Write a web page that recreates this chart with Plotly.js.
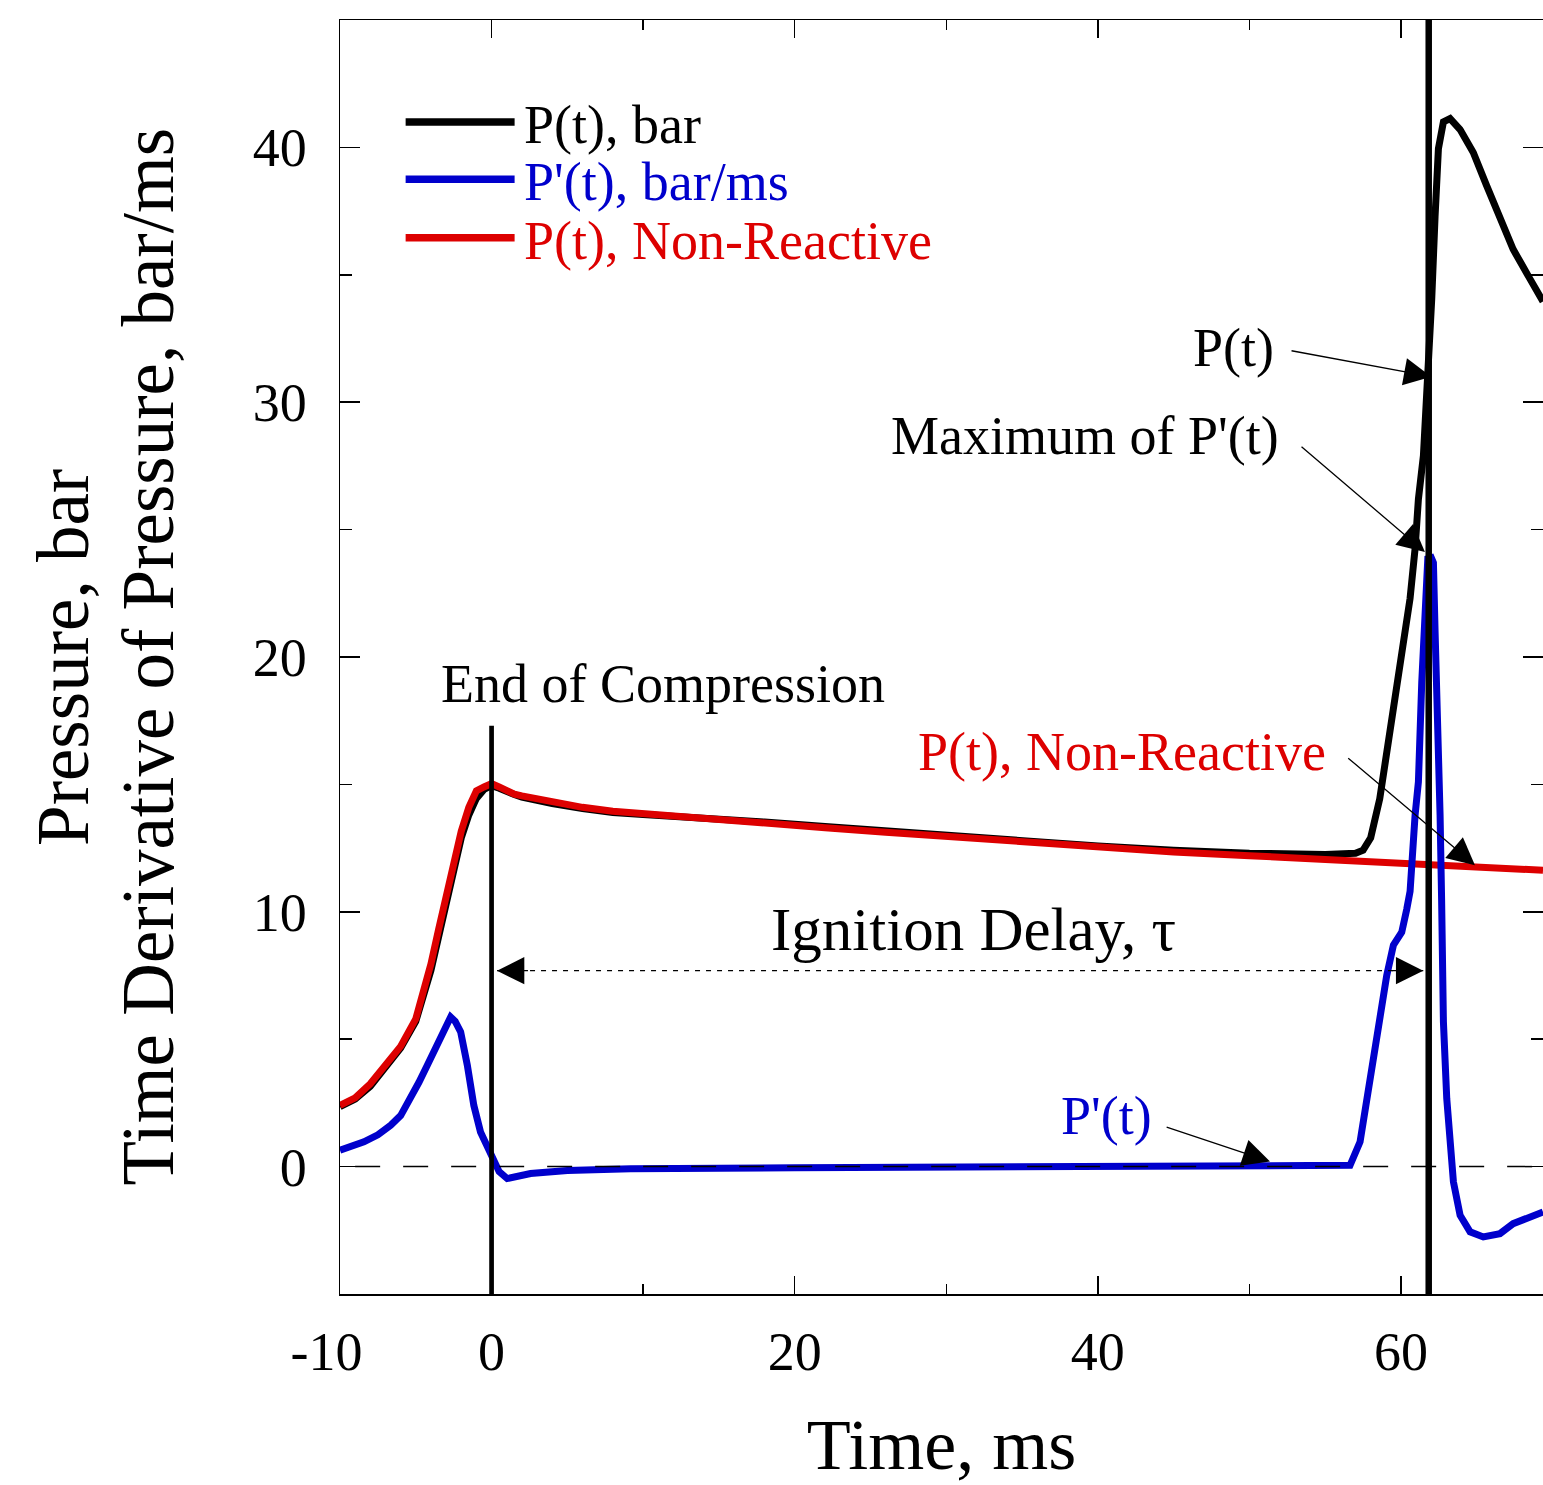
<!DOCTYPE html>
<html><head><meta charset="utf-8">
<script src="https://cdn.plot.ly/plotly-3.0.1.min.js"></script>
<style>html,body{margin:0;padding:0;background:#fff;overflow:hidden}</style>
</head><body><div id="chart" style="width:1543px;height:1485px"></div>
<script>
// ---- data ----
const tPress = [-10,-9,-8,-7,-6,-5,-4.5,-4,-3.5,-3,-2.5,-2,-1.5,-1,-0.5,0,0.5,1,1.5,2,3,4,6,8,10,14,18,22,26,30,35,40,45,50,55,56.5,57,57.5,58,58.6,59.3,59.94,60.6,60.93,61.15,61.48,61.7,61.8,62.03,62.25,62.47,62.8,63.24,63.9,64.77,65.65,66.53,67.4,68.5,69.37];
const pPress = [2.35,2.65,3.15,3.85,4.65,5.7,6.7,7.7,9.0,10.4,11.8,12.9,13.8,14.45,14.8,14.95,14.85,14.7,14.6,14.5,14.35,14.25,14.05,13.9,13.82,13.7,13.52,13.35,13.17,13.0,12.78,12.58,12.42,12.3,12.25,12.27,12.3,12.42,12.9,14.44,17.07,19.67,22.3,24.25,26.2,27.9,30.1,30.8,34.07,37.3,39.95,41.0,41.13,40.7,39.8,38.5,37.2,36.0,34.85,33.95];

const tNonReactive = [-10,-9,-8,-7,-6,-5,-4.5,-4,-3.5,-3,-2.5,-2,-1.5,-1,-0.5,0,0.5,1,1.5,2,3,4,6,8,10,14,18,22,26,30,35,40,45,50,55,60,65,69.37];
const pNonReactive = [2.4,2.7,3.25,3.94,4.72,5.8,6.83,7.95,9.3,10.67,12.06,13.16,14.1,14.75,14.9,15.03,14.9,14.72,14.62,14.55,14.42,14.3,14.1,13.95,13.85,13.65,13.47,13.3,13.12,12.95,12.73,12.52,12.35,12.2,12.05,11.92,11.78,11.63];

const tDeriv = [-10,-9,-8.42,-7.5,-6.66,-6,-5.34,-4.8,-4.24,-3.8,-3.36,-2.9,-2.7,-2.4,-2.04,-1.6,-1.17,-0.73,-0.07,0.5,1.03,2.57,5,9.17,20,40,56,56.64,57.3,57.7,58.2,58.6,59.06,59.5,60.05,60.38,60.6,60.93,61.15,61.37,61.59,61.77,62.0,62.14,62.25,62.36,62.47,62.58,62.68,62.72,62.8,63.02,63.24,63.46,63.9,64.56,65.43,66.53,67.4,68.3,69.37];
const dpDeriv = [0.64,0.82,0.97,1.25,1.62,2.0,2.67,3.3,3.98,4.5,5.02,5.6,5.87,5.7,5.29,3.98,2.4,1.36,0.44,-0.2,-0.47,-0.27,-0.15,-0.08,-0.05,-0.03,0.0,0.05,0.97,2.4,4.37,5.94,7.5,8.69,9.2,10.1,10.8,13.79,15.1,19.0,22.3,23.86,23.9,23.7,21.0,19.0,16.4,13.8,10.5,7.9,5.68,2.67,0.71,-0.6,-1.91,-2.56,-2.76,-2.63,-2.24,-2.0,-1.78];

const xTickVals = [-10,0,20,40,60];
const xTickText = ['-10\u2002','0','20','40','60'];
const yTickVals = [0,10,20,30,40];
const yTickText = ['0','10','20','30','40'];

const endOfCompression = 0;
const ignitionTime = 61.83;
const delayArrowLevel = 7.69;

const seriesNames = ["P(t), bar", "P'(t), bar/ms", "P(t), Non-Reactive"];
const seriesColors = ['#000000', '#0000cc', '#dd0000'];

// ---- figure ----
const FONT = 'Liberation Serif, Times New Roman, serif';

const traces = [
  {x: tPress, y: pPress, name: seriesNames[0], type: 'scatter', mode: 'lines', line: {color: seriesColors[0], width: 7}},
  {x: tNonReactive, y: pNonReactive, name: seriesNames[2], type: 'scatter', mode: 'lines', line: {color: seriesColors[2], width: 7}},
  {x: tDeriv, y: dpDeriv, name: seriesNames[1], type: 'scatter', mode: 'lines', line: {color: seriesColors[1], width: 7}}
];

const legendRows = [41.0, 38.75, 36.45];
const legendOrder = [0, 1, 2];

const shapes = [
  {type: 'line', xref: 'x', yref: 'y', x0: -9, x1: 69.37, y0: 0, y1: 0, layer: 'above', line: {color: '#000', width: 1.5, dash: '25px,23px'}},
  {type: 'line', xref: 'x', yref: 'y', x0: endOfCompression, x1: endOfCompression, y0: -5, y1: 17.3, layer: 'above', line: {color: '#000', width: 4.7}},
  {type: 'line', xref: 'x', yref: 'y', x0: ignitionTime, x1: ignitionTime, y0: -5, y1: 45, layer: 'above', line: {color: '#000', width: 6.5}},
  {type: 'line', xref: 'x', yref: 'y', x0: 0.36, x1: 61.47, y0: delayArrowLevel, y1: delayArrowLevel, layer: 'above', line: {color: '#000', width: 1.4, dash: '5px,6px'}}
];
legendOrder.forEach((k, i) => {
  shapes.push({type: 'line', xref: 'x', yref: 'y', x0: -5.67, x1: 1.52, y0: legendRows[i], y1: legendRows[i], layer: 'above', line: {color: seriesColors[k], width: 7.5}});
});

const arrowStyle = {text: '', showarrow: true, arrowhead: 2, arrowsize: 4.2, arrowwidth: 1.3, arrowcolor: '#000', axref: 'x', ayref: 'y', xref: 'x', yref: 'y'};
const annotations = [
  Object.assign({}, arrowStyle, {x: 62.0, y: 31.0, ax: 52.68, ay: 32.03}),
  Object.assign({}, arrowStyle, {x: 61.58, y: 24.12, ax: 53.34, ay: 28.3}),
  Object.assign({}, arrowStyle, {x: 64.88, y: 11.83, ax: 56.42, ay: 16.08}),
  Object.assign({}, arrowStyle, {x: 51.36, y: 0.2, ax: 44.44, ay: 1.57}),
  Object.assign({}, arrowStyle, {x: 0.36, y: delayArrowLevel, ax: 2.5, ay: delayArrowLevel}),
  Object.assign({}, arrowStyle, {x: 61.47, y: delayArrowLevel, ax: 59.33, ay: delayArrowLevel})
];
const textAnn = (txt, x, y, color, anchor, size) => ({text: txt, x: x, y: y, xref: 'x', yref: 'y', showarrow: false, xanchor: anchor || 'center', yanchor: 'middle', font: {family: FONT, size: size || 54, color: color}});
annotations.push(textAnn('P(t)', 48.92, 32.14, '#000'));
annotations.push(textAnn("Maximum of P'(t)", 39.15, 28.69, '#000'));
annotations.push(textAnn('P(t), Non-Reactive', 41.62, 16.29, seriesColors[2]));
annotations.push(textAnn("P'(t)", 40.57, 1.98, seriesColors[1]));
annotations.push(textAnn('End of Compression', 11.28, 18.95, '#000'));
annotations.push(textAnn('Ignition Delay, τ', 31.79, 9.3, '#000', 'center', 61));
legendOrder.forEach((k, i) => {
  annotations.push(textAnn(seriesNames[k], 2.0, legendRows[i] - 0.12, seriesColors[k], 'left'));
});
annotations.push({text: 'Pressure, bar', xref: 'paper', yref: 'paper', x: -0.2303, y: 0.5, xanchor: 'center', yanchor: 'middle', textangle: -90, showarrow: false, font: {family: FONT, size: 73, color: '#000'}});
annotations.push({text: 'Time Derivative of Pressure, bar/ms', xref: 'paper', yref: 'paper', x: -0.16, y: 0.5, xanchor: 'center', yanchor: 'middle', textangle: -90, showarrow: false, font: {family: FONT, size: 73, color: '#000'}});

const layout = {
  width: 1543, height: 1485,
  margin: {l: 340, r: 0, t: 20, b: 191},
  paper_bgcolor: '#fff', plot_bgcolor: '#fff',
  showlegend: false,
  font: {family: FONT, size: 54, color: '#000'},
  xaxis: {
    range: [-10, 69.37], showgrid: false, zeroline: false,
    showline: true, linecolor: '#000', linewidth: 1.5, mirror: 'ticks',
    tickmode: 'array', tickvals: xTickVals, ticktext: xTickText,
    ticks: 'inside', ticklen: 18, tickwidth: 1.5, tickcolor: '#000',
    minor: {tickmode: 'linear', tick0: 0, dtick: 10, ticks: 'inside', ticklen: 10, tickwidth: 1.5, tickcolor: '#000'},
    tickfont: {family: FONT, size: 54, color: '#000'}, ticklabelstandoff: 10,
    title: {text: 'Time, ms', font: {family: FONT, size: 72, color: '#000'}, standoff: 42},
    automargin: false
  },
  yaxis: {
    range: [-5, 45], showgrid: false, zeroline: false,
    showline: true, linecolor: '#000', linewidth: 1.5, mirror: 'ticks',
    tickmode: 'array', tickvals: yTickVals, ticktext: yTickText,
    ticks: 'inside', ticklen: 20, tickwidth: 1.5, tickcolor: '#000',
    minor: {tickmode: 'linear', tick0: 0, dtick: 5, ticks: 'inside', ticklen: 12, tickwidth: 1.5, tickcolor: '#000'},
    tickfont: {family: FONT, size: 54, color: '#000'}, ticklabelstandoff: 21,
    automargin: false
  },
  shapes: shapes,
  annotations: annotations
};

Plotly.newPlot('chart', traces, layout, {displayModeBar: false, staticPlot: true});
</script>
</body></html>
